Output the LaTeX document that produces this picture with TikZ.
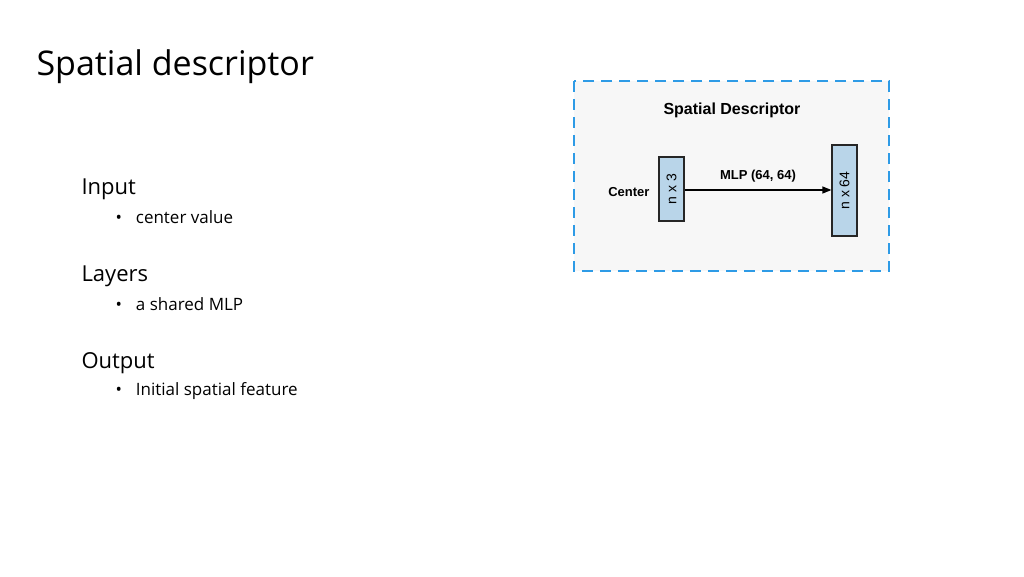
\documentclass[tikz,border=0pt]{standalone}
\usepackage{fontspec}
\setmainfont{Open Sans}
\newfontfamily\arialf{Liberation Sans}
\usetikzlibrary{arrows.meta}
\definecolor{dashblue}{HTML}{2E9BE6}
\definecolor{boxblue}{HTML}{B9D5E9}
\tikzset{
  tensor/.style={draw=black!85,line width=1.2pt,fill=boxblue,inner sep=0pt,font=\arialf\fontsize{14}{14}\selectfont},
  lbl/.style={font=\arialf\bfseries\fontsize{13}{13}\selectfont},
  head/.style={font=\fontsize{22}{22}\selectfont,anchor=west},
  bul/.style={font=\fontsize{17}{17}\selectfont,anchor=west}
}
\begin{document}
\begin{tikzpicture}[x=1pt,y=-1pt]
\useasboundingbox (0,0) rectangle (1024,576);
\node[anchor=west,font=\fontsize{34}{34}\selectfont] (title) at (33,67) {Spatial descriptor};
\node[head] (h1) at (78,189) {Input};
\node[bul] (b1) at (112,217) {•\hspace{14pt}center value};
\node[head] (h2) at (78,276) {Layers};
\node[bul] (b2) at (112,304) {•\hspace{14pt}a shared MLP};
\node[head] (h3) at (78,363) {Output};
\node[bul] (b3) at (112,391) {•\hspace{14pt}Initial spatial feature};
\draw[dashblue,line width=2.5pt,dash pattern=on 11pt off 7pt,fill=black!3] (574,81) rectangle (889,271);
\node[font=\arialf\bfseries\fontsize{16}{16}\selectfont] (st) at (732,110) {Spatial Descriptor};
\node[tensor,minimum width=25pt,minimum height=64pt] (a) at (671.5,189) {};
\node[rotate=90,font=\arialf\fontsize{14}{14}\selectfont] at (a) {n x 3};
\node[tensor,minimum width=25pt,minimum height=91pt] (b) at (844.5,190.5) {};
\node[rotate=90,font=\arialf\fontsize{14}{14}\selectfont] at (b) {n x 64};
\node[lbl,anchor=east] (c) at (653,192) {Center};
\draw[line width=1.2pt,-{Triangle[length=9pt,width=7pt]}] (a.east|-0,190) -- (b.west|-0,190) node[midway,above=4pt,lbl] {MLP (64, 64)};
\end{tikzpicture}
\end{document}
